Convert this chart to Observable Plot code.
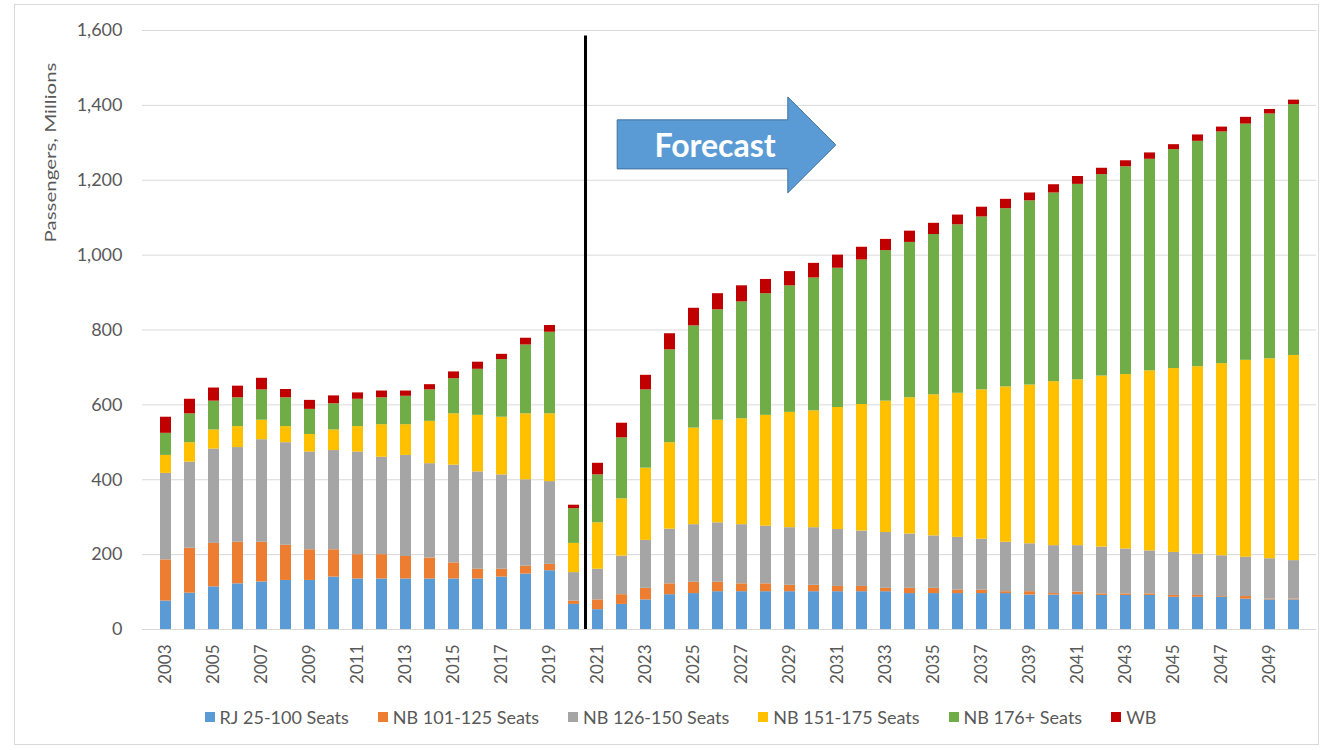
<!DOCTYPE html>
<html>
<head>
<meta charset="utf-8">
<script src="https://cdn.jsdelivr.net/npm/d3@7"></script>
<script src="https://cdn.jsdelivr.net/npm/@observablehq/plot@0.6"></script>
<style>
  body { margin: 0; background: #fff; font-family: Lato, "Open Sans", sans-serif; }
  #wrap { position: relative; width: 1324px; height: 750px; overflow: hidden; }
  #frame { position: absolute; left: 14px; top: 4px; width: 1305px; height: 741px; border: 1px solid #D9D9D9; box-sizing: border-box; }
  #chart { position: absolute; left: 0; top: 0; }
  #legend { position: absolute; left: 28px; top: 706px; width: 1305px; display: flex; justify-content: center; gap: 29px; font-size: 18px; color: #595959; }
  #legend .item { display: flex; align-items: center; white-space: nowrap; }
  #legend .sw { width: 10px; height: 10px; margin-right: 5px; display: inline-block; }
</style>
</head>
<body>
<div id="wrap">
  <div id="frame"></div>
  <div id="chart"></div>
  <div id="legend"></div>
</div>
<script>
const years = [2003,2004,2005,2006,2007,2008,2009,2010,2011,2012,2013,2014,2015,2016,2017,2018,2019,2020,
  2021,2022,2023,2024,2025,2026,2027,2028,2029,2030,2031,2032,2033,2034,2035,2036,2037,2038,2039,2040,
  2041,2042,2043,2044,2045,2046,2047,2048,2049,2050];
const xTickYears = [2003,2005,2007,2009,2011,2013,2015,2017,2019,2021,2023,2025,2027,2029,2031,2033,2035,2037,2039,2041,2043,2045,2047,2049];
const yTicks = [0,200,400,600,800,1000,1200,1400,1600];

const seriesNames = ["RJ 25-100 Seats","NB 101-125 Seats","NB 126-150 Seats","NB 151-175 Seats","NB 176+ Seats","WB"];
const seriesColors = ["#5B9BD5","#ED7D31","#A5A5A5","#FFC000","#70AD47","#C00000"];

const rj25_100 = [76,97,114,122,127,131,131,140,135,135,135,135,135,135,140,148,157,67,
  53,67,79,93,96,101,101,101,101,101,101,101,101,96,96,96,96,96,92,92,93,91,91,91,86,86,86,81,79,79];
const nb101_125 = [110,120,116,111,106,94,82,73,65,65,60,56,43,26,21,21,17,9,
  26,26,31,29,30,25,21,21,17,17,14,14,9,14,14,9,9,5,9,4,7,4,4,4,5,5,2,7,2,2];
const nb126_150 = [231,230,252,253,274,274,261,265,274,260,270,252,261,260,252,231,221,76,
  82,103,128,146,154,159,158,154,154,154,152,148,149,145,140,141,136,132,128,128,124,125,120,115,115,110,109,105,108,103];
const nb151_175 = [48,52,51,56,52,43,47,55,68,87,82,113,137,151,154,176,181,78,
  124,153,193,231,258,274,283,296,308,312,326,338,351,364,377,385,399,415,424,438,443,457,466,481,491,501,513,526,534,548];
const nb176plus = [59,77,77,77,81,77,67,70,73,72,76,84,94,123,154,184,218,93,
  128,163,209,248,273,295,312,325,338,355,372,386,402,415,428,450,462,476,492,504,522,538,555,565,585,602,619,631,654,670];
const wb = [43,39,35,31,31,22,24,21,17,18,14,14,18,19,14,18,18,9,
  31,39,39,43,47,43,43,38,38,39,35,34,30,30,30,26,26,25,21,22,21,17,16,17,13,17,13,18,12,12];

const seriesValues = [rj25_100, nb101_125, nb126_150, nb151_175, nb176plus, wb];
const rows = [];
seriesNames.forEach((name, s) => {
  years.forEach((yr, i) => rows.push({year: yr, series: name, value: seriesValues[s][i]}));
});

const axisTitle = "Passengers, Millions";
const forecastLabel = "Forecast";

// annotation overlay drawn through the plot's own scales
function overlay(index, scales) {
  const x = scales.x, y = scales.y;
  const bw = typeof x.bandwidth === "function" ? x.bandwidth() : (x.bandwidth || 0);
  const step = x(years[1]) - x(years[0]);
  const cx = (yr) => x(years[0]) + bw / 2 + (yr - years[0]) * step;
  const g = d3.create("svg:g");
  // forecast divider
  g.append("line")
    .attr("x1", cx(2020.5)).attr("x2", cx(2020.5))
    .attr("y1", y(1585)).attr("y2", y(0))
    .attr("stroke", "#000").attr("stroke-width", 3);
  // arrow
  const bL = cx(2021.82), hB = cx(2028.93), tip = cx(2030.93);
  const bT = y(1360), bB = y(1229), hT = y(1421), hBt = y(1165), tY = y(1293);
  g.append("path")
    .attr("d", `M${bL},${bT}L${hB},${bT}L${hB},${hT}L${tip},${tY}L${hB},${hBt}L${hB},${bB}L${bL},${bB}Z`)
    .attr("fill", "#5B9BD5").attr("stroke", "#41719C").attr("stroke-width", 1);
  g.append("text")
    .attr("x", cx(2025.9)).attr("y", tY)
    .attr("text-anchor", "middle").attr("dominant-baseline", "central")
    .attr("fill", "#fff").attr("font-size", 32).attr("font-weight", "bold")
    .attr("font-family", "Lato, sans-serif")
    .text(forecastLabel);
  return g.node();
}

const chart = Plot.plot({
  width: 1324,
  height: 700,
  marginLeft: 142,
  marginRight: 8,
  marginTop: 30,
  marginBottom: 71,
  style: {fontFamily: "Lato, sans-serif", fontSize: "18px", color: "#595959", background: "transparent", overflow: "visible"},
  x: {domain: years, paddingInner: 0.55, paddingOuter: 0.275, align: 0.5},
  y: {domain: [0, 1600]},
  color: {domain: seriesNames, range: seriesColors},
  marks: [
    Plot.gridY(yTicks.filter(d => d > 0), {stroke: "#D9D9D9", strokeOpacity: 1, strokeWidth: 1}),
    Plot.ruleY([0], {stroke: "#D9D9D9", strokeWidth: 1}),
    Plot.barY(rows, {x: "year", y: "value", fill: "series"}),
    Plot.axisY(yTicks, {tickSize: 0, tickPadding: 20, tickFormat: d3.format(","), label: null, fontSize: 18}),
    Plot.axisX(xTickYears, {tickSize: 0, tickPadding: 15, tickRotate: -90, tickFormat: d => String(d), label: null, fontSize: 17}),
    Plot.text([axisTitle], {frameAnchor: "top-left", rotate: -90, textAnchor: "end", lineAnchor: "middle",
      dx: -92, dy: 32, fontSize: 16, fill: "#595959"}),
    overlay
  ]
});
// stretch the axis title to the reference length
chart.querySelectorAll("text").forEach(t => {
  if (t.textContent === axisTitle) {
    t.setAttribute("textLength", 180);
    t.setAttribute("lengthAdjust", "spacingAndGlyphs");
  }
});
document.getElementById("chart").appendChild(chart);

const legend = document.getElementById("legend");
seriesNames.forEach((name, i) => {
  const item = document.createElement("div");
  item.className = "item";
  const sw = document.createElement("span");
  sw.className = "sw";
  sw.style.background = seriesColors[i];
  item.appendChild(sw);
  item.appendChild(document.createTextNode(name));
  legend.appendChild(item);
});
</script>
</body>
</html>
